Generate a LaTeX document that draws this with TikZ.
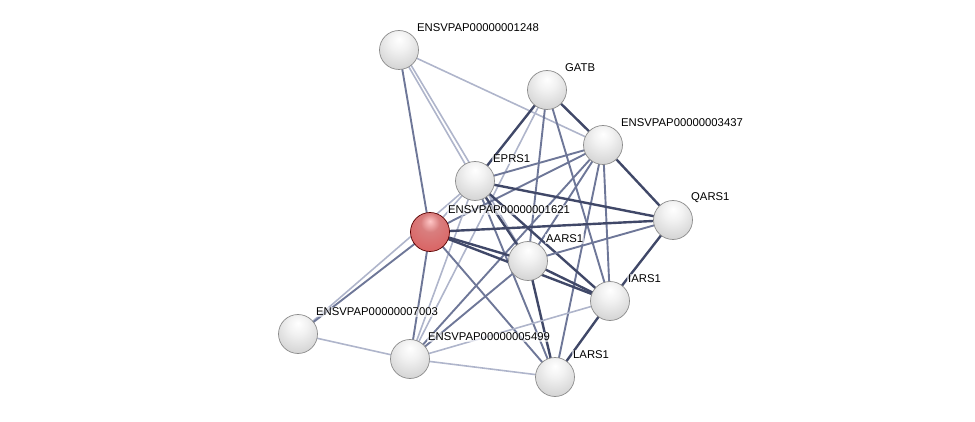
\documentclass[tikz,border=0pt]{standalone}
\usepackage{fontspec}
\setmainfont{Liberation Sans}
\definecolor{estrong}{RGB}{64,72,104}
\definecolor{emid}{RGB}{110,119,152}
\definecolor{eweak}{RGB}{175,181,203}
\pgfdeclareradialshading{lightball}{\pgfpoint{0bp}{14bp}}{%
  color(0bp)=(white); color(12bp)=(white!95!black); color(35bp)=(white!82!black);
  color(52bp)=(white!70!black); color(62bp)=(white!60!black); color(80bp)=(white!52!black)}
\pgfdeclareradialshading{redball}{\pgfpoint{0bp}{14bp}}{%
  color(0bp)=(white!78!red); color(12bp)=(white!58!red!85!black); color(35bp)=(white!45!red!85!black);
  color(52bp)=(white!32!red!80!black); color(62bp)=(red!62!black); color(80bp)=(red!45!black)}
\begin{document}
\begin{tikzpicture}[x=1pt,y=-1pt,
  prot/.style={circle,minimum size=39pt,inner sep=0pt,shading=lightball,draw=black!45,line width=0.7pt},
  query/.style={prot,shading=redball,draw=red!35!black},
  lbl/.style={anchor=west,inner sep=1pt,font=\fontsize{11.3}{13}\selectfont,fill=white,fill opacity=0.6,text opacity=1},
  strong/.style={draw=estrong,line width=2.4pt},
  mid/.style={draw=emid,line width=1.9pt},
  weak/.style={draw=eweak,line width=1.6pt}]
\useasboundingbox (0,0) rectangle (975,422);
% node positions
\coordinate (p1248) at (399,50);
\coordinate (pGATB) at (547,90);
\coordinate (p3437) at (603,145);
\coordinate (pEPRS) at (475,181);
\coordinate (p1621) at (430,232);
\coordinate (pQARS) at (673,220);
\coordinate (pAARS) at (528,261);
\coordinate (pIARS) at (610,301);
\coordinate (p7003) at (298,334);
\coordinate (p5499) at (410,359);
\coordinate (pLARS) at (555,377);
% edges
\draw[weak] (p1248) -- (p3437);
\draw[weak] (p1248) -- (pEPRS);
\draw[weak] ([xshift=3pt]p1248) -- (pAARS);
\draw[mid] (p1248) -- (p1621);
\draw[weak] (pGATB) -- (p5499);
\draw[mid] (pGATB) -- (pAARS);
\draw[mid] (pGATB) -- (pIARS);
\draw[strong] (pGATB) -- (pEPRS);
\draw[strong] (pGATB) -- (p3437);
\draw[mid] (p3437) -- (pEPRS);
\draw[mid] (p3437) -- (p1621);
\draw[strong] (p3437) -- (pQARS);
\draw[mid] (p3437) -- (pAARS);
\draw[mid] (p3437) -- (pIARS);
\draw[mid] (p3437) -- (pLARS);
\draw[mid] (p3437) -- (p5499);
\draw[strong] (pEPRS) -- (pQARS);
\draw[strong] (pEPRS) -- (pAARS);
\draw[strong] (pEPRS) -- (pIARS);
\draw[mid] (pEPRS) -- (pLARS);
\draw[weak] (pEPRS) -- (p1621);
\draw[weak] (pEPRS) -- (p7003);
\draw[weak] (pEPRS) -- (p5499);
\draw[strong] (p1621) -- (pQARS);
\draw[strong] (p1621) -- (pAARS);
\draw[strong] (p1621) -- (pIARS);
\draw[mid] (p1621) -- (pLARS);
\draw[mid] (p1621) -- (p5499);
\draw[mid] (p1621) -- (p7003);
\draw[mid] (pAARS) -- (pQARS);
\draw[strong] (pAARS) -- (pIARS);
\draw[strong] (pAARS) -- (pLARS);
\draw[mid] (pAARS) -- (p5499);
\draw[strong] (pQARS) -- (pIARS);
\draw[strong] (pIARS) -- (pLARS);
\draw[weak] (pIARS) -- (p5499);
\draw[weak] (p5499) -- (pLARS);
\draw[weak] (p7003) -- (p5499);
% nodes
\node[prot] (n1248) at (p1248) {};
\node[prot] (nGATB) at (pGATB) {};
\node[prot] (n3437) at (p3437) {};
\node[prot] (nEPRS) at (pEPRS) {};
\node[query] (n1621) at (p1621) {};
\node[prot] (nQARS) at (pQARS) {};
\node[prot] (nAARS) at (pAARS) {};
\node[prot] (nIARS) at (pIARS) {};
\node[prot] (n7003) at (p7003) {};
\node[prot] (n5499) at (p5499) {};
\node[prot] (nLARS) at (pLARS) {};
% labels
\node[lbl] (l1248) at ([xshift=17pt,yshift=22pt]p1248) {ENSVPAP00000001248};
\node[lbl] (lGATB) at ([xshift=17pt,yshift=22pt]pGATB) {GATB};
\node[lbl] (l3437) at ([xshift=17pt,yshift=22pt]p3437) {ENSVPAP00000003437};
\node[lbl] (lEPRS) at ([xshift=17pt,yshift=22pt]pEPRS) {EPRS1};
\node[lbl] (l1621) at ([xshift=17pt,yshift=22pt]p1621) {ENSVPAP00000001621};
\node[lbl] (lQARS) at ([xshift=17pt,yshift=22pt]pQARS) {QARS1};
\node[lbl] (lAARS) at ([xshift=17pt,yshift=22pt]pAARS) {AARS1};
\node[lbl] (lIARS) at ([xshift=17pt,yshift=22pt]pIARS) {IARS1};
\node[lbl] (l7003) at ([xshift=17pt,yshift=22pt]p7003) {ENSVPAP00000007003};
\node[lbl] (l5499) at ([xshift=17pt,yshift=22pt]p5499) {ENSVPAP00000005499};
\node[lbl] (lLARS) at ([xshift=17pt,yshift=22pt]pLARS) {LARS1};
\end{tikzpicture}
\end{document}
